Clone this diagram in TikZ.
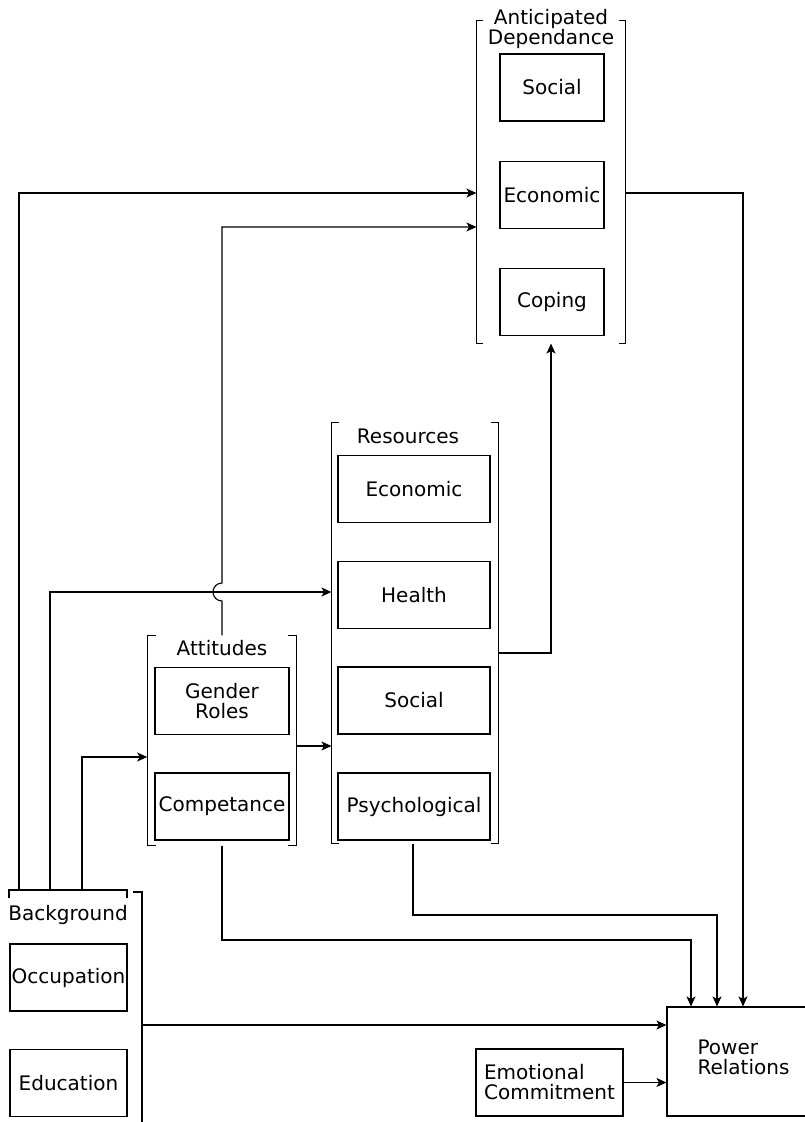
\documentclass[tikz,border=0pt]{standalone}
\usepackage{fontspec}
\setmainfont{DejaVu Sans}
\usetikzlibrary{arrows.meta}
\begin{document}
\begin{tikzpicture}[x=1pt,y=-1pt,line width=1.1pt,
  every node/.style={font=\fontsize{20}{20}\selectfont},
  box/.style={draw,inner sep=0pt,align=center,minimum height=67},
  grp/.style={inner sep=0pt,draw=none},
  lbl/.style={inner sep=0pt,align=center},
  arr/.style={-{Stealth[length=10pt,width=9pt,inset=2.5pt]}}]
\useasboundingbox (0,0) rectangle (804,1122);

% ---------- Anticipated Dependance ----------
\node[grp,minimum width=148,minimum height=322] (AD) at (551,182) {};
\node[lbl] (ADt) at (551,29) {Anticipated\\Dependance};
\node[box,minimum width=104] (ads) at (552,87.5) {Social};
\node[box,minimum width=104] (ade) at (552,195) {Economic};
\node[box,minimum width=104] (adc) at (552,302) {Coping};
\draw ([xshift=7pt]AD.north west) -- (AD.north west) -- (AD.south west) -- ([xshift=7pt]AD.south west);
\draw ([xshift=-7pt]AD.north east) -- (AD.north east) -- (AD.south east) -- ([xshift=-7pt]AD.south east);

% ---------- Resources ----------
\node[grp,minimum width=166,minimum height=420] (RES) at (415,633) {};
\node[lbl] (RESt) at (408,436) {Resources};
\node[box,minimum width=152] (rese) at (414,489) {Economic};
\node[box,minimum width=152] (resh) at (414,595) {Health};
\node[box,minimum width=152] (ress) at (414,700.5) {Social};
\node[box,minimum width=152] (resp) at (414,806.5) {Psychological};
\draw ([xshift=8pt]RES.north west) -- (RES.north west) -- (RES.south west) -- ([xshift=8pt]RES.south west);
\draw ([xshift=-8pt]RES.north east) -- (RES.north east) -- (RES.south east) -- ([xshift=-8pt]RES.south east);

% ---------- Attitudes ----------
\node[grp,minimum width=148.5,minimum height=209] (ATT) at (222,740.5) {};
\node[lbl] (ATTt) at (222,648) {Attitudes};
\node[box,minimum width=134] (attg) at (222,701) {Gender\\Roles};
\node[box,minimum width=134] (attc) at (222,806.5) {Competance};
\draw ([xshift=9pt]ATT.north west) -- (ATT.north west) -- (ATT.south west) -- ([xshift=9pt]ATT.south west);
\draw ([xshift=-9pt]ATT.north east) -- (ATT.north east) -- (ATT.south east) -- ([xshift=-9pt]ATT.south east);

% ---------- Background ----------
\node[grp,minimum width=133,minimum height=232] (BG) at (75.5,1006) {};
\node[lbl] (BGt) at (68,915) {Background};
\node[box,minimum width=117] (bgo) at (68.5,977.5) {Occupation};
\node[box,minimum width=117] (bge) at (68.5,1083) {Education};
\draw (9,898) -- (9,890) -- (127,890) -- (127,898);
\draw (133,892) -- (142,892) -- (142,1122);
\coordinate (bgA) at (19,890);
\coordinate (bgB) at (50,890);
\coordinate (bgC) at (82,890);
\coordinate (bgR) at (142,1025);

% ---------- Outcome ----------
\node[draw,inner sep=0pt,align=left,minimum width=153,minimum height=109] (PR) at (743.5,1061.5) {Power\\Relations\\[-12pt]};
\node[draw,inner sep=0pt,align=left,minimum width=147,minimum height=67] (EC) at (549.5,1082.5) {Emotional\\Commitment};

% ---------- Connectors ----------
\draw[arr] (bgA) |- (AD.west |- 0,193);
\draw[arr] (ATT.north) -- (ATT.north |- 0,601) arc[start angle=90,end angle=270,radius=9] -- (ATT.north |- 0,227) -- (AD.west |- 0,227);
\draw[arr] (bgB) |- (RES.west |- 0,592);
\draw[arr] (bgC) |- (ATT.west |- 0,757);
\draw[arr] (ATT.east |- 0,746) -- (RES.west |- 0,746);
\draw[arr] (RES.east |- 0,653) -| (AD.south);
\draw[arr] (AD.east |- 0,193) -| (PR.north -| 743,0);
\draw[arr] (ATT.south) |- (691,940) -- (PR.north -| 691,0);
\draw[arr] (RES.south -| 413,0) |- (717,915) -- (PR.north -| 717,0);
\draw[arr] (bgR) -- (PR.west |- bgR);
\draw[arr] (EC.east) -- (PR.west |- EC.east);
\end{tikzpicture}
\end{document}
